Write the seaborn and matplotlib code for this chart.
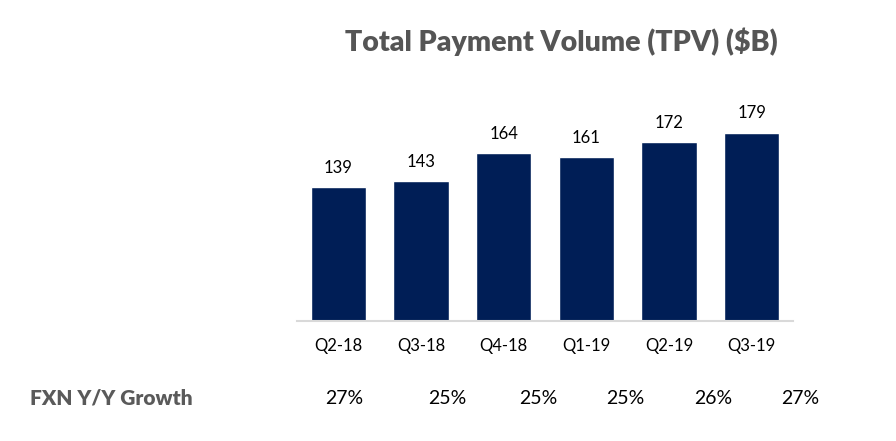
import matplotlib.pyplot as plt
import seaborn as sns
import pandas as pd

quarters = ['Q2-18', 'Q3-18', 'Q4-18', 'Q1-19', 'Q2-19', 'Q3-19']
tpv = [139, 143, 164, 161, 172, 179]
fxn_growth = ['27%', '25%', '25%', '25%', '26%', '27%']

# layout: x pixel centres of the growth row in the original slide
growth_px = [344, 447, 538, 625, 713, 800]

df = pd.DataFrame({'quarter': quarters, 'tpv': tpv})

sns.set_theme(style='white')
plt.rcParams['font.family'] = ['Lato', 'DejaVu Sans']

W, H = 896, 441
fig = plt.figure(figsize=(W / 100, H / 100), dpi=100)
ax = fig.add_axes([297 / W, 120 / H, 496 / W, 221 / H])

sns.barplot(data=df, x='quarter', y='tpv', color='#001E56', width=0.666,
            saturation=1, ax=ax)

ax.set_xlim(-0.5, 5.5)
ax.set_ylim(40, 203)
for i, v in enumerate(tpv):
    ax.annotate(str(v), (i, v), xytext=(0, 8), textcoords='offset points',
                ha='center', va='bottom', fontsize=12, color='black')

ax.set_xlabel('')
ax.set_ylabel('')
ax.set_yticks([])
ax.tick_params(axis='x', length=0, pad=12, labelsize=12, labelcolor='black')
for s in ['top', 'right', 'left']:
    ax.spines[s].set_visible(False)
ax.spines['bottom'].set_color('#d9d9d9')
ax.spines['bottom'].set_linewidth(1.5)

fig.text(561 / W, 1 - 42 / H, 'Total Payment Volume (TPV) ($B)', ha='center',
         va='center', fontsize=20.5, fontweight='heavy', color='#555555')

fig.text(30 / W, 1 - 398 / H, 'FXN Y/Y Growth', ha='left', va='center',
         fontsize=15, fontweight='heavy', color='#5a5a5a')
for x, g in zip(growth_px, fxn_growth):
    fig.text(x / W, 1 - 398 / H, g, ha='center', va='center', fontsize=14,
             color='black')

fig.savefig('out.png', dpi=100, facecolor='white')
